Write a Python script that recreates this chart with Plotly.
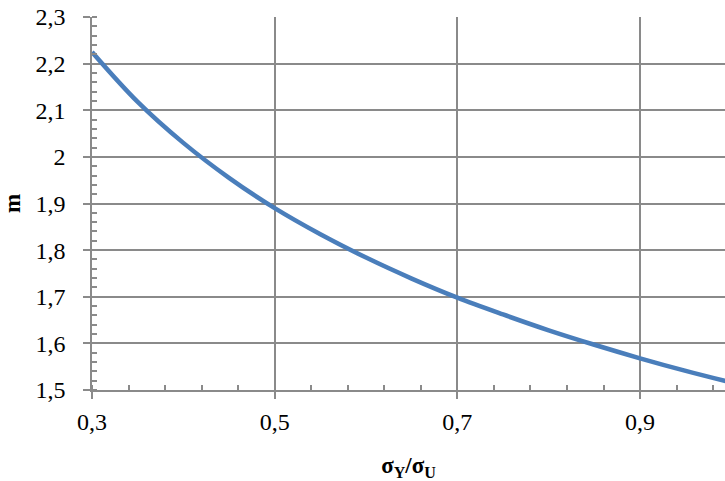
import plotly.graph_objects as go

# Ratio sigma_Y / sigma_U (x) and exponent m (y)
ratio = [0.30, 0.35, 0.40, 0.45, 0.50, 0.55, 0.60, 0.65, 0.70, 0.75,
         0.80, 0.85, 0.90, 0.95, 1.00]
m_vals = [2.225, 2.118, 2.030, 1.955, 1.890, 1.834, 1.784, 1.739, 1.698, 1.662,
          1.628, 1.597, 1.568, 1.541, 1.516]

FONT = "Times New Roman, Liberation Serif, serif"
GRID = "#8a8a8a"

fig = go.Figure()
fig.add_trace(go.Scatter(
    x=ratio, y=m_vals, mode="lines",
    line=dict(color="#4A7EBB", width=4.5, shape="spline"),
    showlegend=False, hoverinfo="skip",
))

fig.update_layout(
    width=725, height=481,
    margin=dict(l=92, r=0, t=17, b=91),
    paper_bgcolor="white", plot_bgcolor="white",
    separators=", ",
    font=dict(family=FONT, size=24, color="black"),
)

fig.update_xaxes(
    range=[0.3, 0.993], tick0=0.3, dtick=0.2,
    tickfont=dict(family=FONT, size=24, color="black"),
    showgrid=True, gridcolor=GRID, gridwidth=1.5,
    showline=True, linecolor=GRID, linewidth=1.5,
    ticks="outside", ticklen=7, tickcolor=GRID, tickwidth=1.5,
    minor=dict(tick0=0.3, dtick=0.04, ticks="inside", ticklen=5,
               tickcolor=GRID, tickwidth=1.5, showgrid=False),
    zeroline=False,
    title=dict(text="<b>σ<sub>Y</sub>/σ<sub>U</sub></b>",
               font=dict(family=FONT, size=23), standoff=26),
    ticklabelstandoff=2,
)
fig.update_yaxes(
    range=[1.5, 2.3], dtick=0.1,
    tickfont=dict(family=FONT, size=24, color="black"),
    showgrid=True, gridcolor=GRID, gridwidth=1.5,
    showline=True, linecolor=GRID, linewidth=1.5,
    ticks="outside", ticklen=7, tickcolor=GRID, tickwidth=1.5,
    minor=dict(dtick=0.02, ticks="inside", ticklen=5,
               tickcolor=GRID, tickwidth=1.5, showgrid=False),
    zeroline=False,
    title=dict(text="<b>m</b>", font=dict(family=FONT, size=23), standoff=10),
    ticklabelstandoff=13,
)

fig.write_html(
    "out.html",
    config={"displayModeBar": False},
    post_script="document.body.style.margin='0';document.body.style.overflow='hidden';",
)
